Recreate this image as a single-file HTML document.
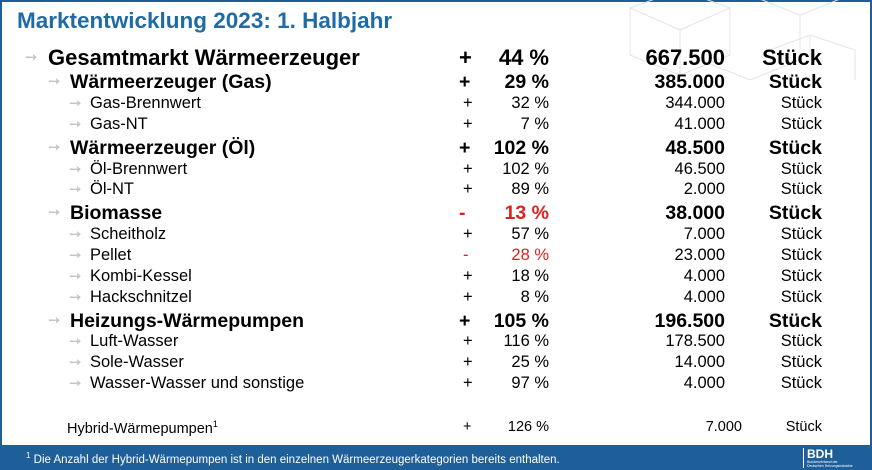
<!DOCTYPE html><html><head><meta charset="utf-8"><style>
body{margin:0;width:872px;height:470px;overflow:hidden;background:#fff;font-family:"Liberation Sans",Arial,sans-serif;}
.f{position:absolute;left:0;top:0;width:868px;height:443px;border:2px solid #1e5f99;border-bottom:none;}
.bar{position:absolute;left:0;top:445px;width:872px;height:25px;background:#1e5f99;color:#fff;font-size:11.5px;}
.t{position:absolute;white-space:nowrap;color:#000;}
.r{text-align:right;}
.a{position:absolute;color:#c4c4c4;font-size:15px;}
.b0{font-size:22px;font-weight:bold}
.b1{font-size:19.5px;font-weight:bold}
.n{font-size:16.5px}
.red{color:#e02020}
</style></head><body>
<div class="f"></div>
<svg style="position:absolute;left:620px;top:0" width="250" height="90" stroke="#e4e4e4" fill="none" stroke-width="1">
<path d="M10 8 L60 -10 L110 8 L110 55 L60 75 L10 55Z M60 75 L60 30 L110 8 M60 30 L10 8"/>
<path d="M130 -5 L180 15 L180 60 L130 80 L80 60 M180 15 L230 -5"/>
<path d="M150 50 L190 35 L235 50 L235 80 M190 35 L190 60"/>
</svg>
<div class="t" style="left:17px;top:8px;font-size:22.5px;font-weight:bold;color:#1f6ba5">Marktentwicklung 2023: 1. Halbjahr</div>
<div class="bar"><span style="position:absolute;left:26px;top:6px"><sup style="font-size:8px">1</sup> Die Anzahl der Hybrid-Wärmepumpen ist in den einzelnen Wärmeerzeugerkategorien bereits enthalten.</span>
<div style="position:absolute;left:803px;top:3px;border-left:1px solid #fff;padding-left:3px;font-weight:bold;font-size:12px;line-height:12px">BDH<div style="font-size:3.5px;font-weight:normal;line-height:4px">Bundesverband der<br>Deutschen Heizungsindustrie</div></div></div>
<div id="rows"></div>
<script>
const rows=[
[0,58,"Gesamtmarkt Wärmeerzeuger","+","44 %","667.500"],
[1,82,"Wärmeerzeuger (Gas)","+","29 %","385.000"],
[2,104,"Gas-Brennwert","+","32 %","344.000"],
[2,125,"Gas-NT","+","7 %","41.000"],
[1,148,"Wärmeerzeuger (Öl)","+","102 %","48.500"],
[2,170,"Öl-Brennwert","+","102 %","46.500"],
[2,190,"Öl-NT","+","89 %","2.000"],
[1,213,"Biomasse","-","13 %","38.000",1],
[2,235,"Scheitholz","+","57 %","7.000"],
[2,256,"Pellet","-","28 %","23.000",1],
[2,277,"Kombi-Kessel","+","18 %","4.000"],
[2,298,"Hackschnitzel","+","8 %","4.000"],
[1,321,"Heizungs-Wärmepumpen","+","105 %","196.500"],
[2,342,"Luft-Wasser","+","116 %","178.500"],
[2,363,"Sole-Wasser","+","25 %","14.000"],
[2,384,"Wasser-Wasser und sonstige","+","97 %","4.000"]];
let h="";
for(const [l,y,name,s,p,n,red] of rows){
 const cls=["b0","b1","n"][l], fs=[22,19.5,16.5][l];
 const tx=[48,70,90][l], ax=[25,48,69][l];
 const top=y-fs*0.58;
 h+=`<div class="a" style="left:${ax}px;top:${y-10}px">➙</div>`;
 h+=`<div class="t ${cls}" style="left:${tx}px;top:${top}px">${name}</div>`;
 h+=`<div class="t ${cls} ${red?'red':''}" style="left:${l==2?463:459}px;top:${top}px">${s}</div>`;
 h+=`<div class="t r ${cls} ${red?'red':''}" style="right:${872-549}px;top:${top}px">${p}</div>`;
 h+=`<div class="t r ${cls}" style="right:${872-725}px;top:${top}px">${n}</div>`;
 h+=`<div class="t r ${cls}" style="right:${872-822}px;top:${top}px">Stück</div>`;
}
h+=`<div class="t" style="left:67px;top:419px;font-size:14.5px">Hybrid-Wärmepumpen<sup style="font-size:9px">1</sup></div>
<div class="t" style="left:463px;top:419px;font-size:14.5px">+</div>
<div class="t r" style="right:${872-549}px;top:419px;font-size:14.5px">126 %</div>
<div class="t r" style="right:${872-742}px;top:419px;font-size:14.5px">7.000</div>
<div class="t r" style="right:${872-822}px;top:419px;font-size:14.5px">Stück</div>`;
document.getElementById("rows").innerHTML=h;
</script>
</body></html>
